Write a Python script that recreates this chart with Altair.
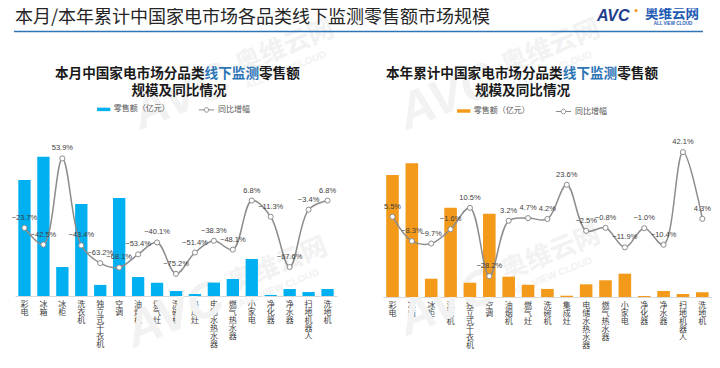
import altair as alt
import pandas as pd

# ---------------- data ----------------
categories = ["彩电", "冰箱", "冰柜", "洗衣机", "独立式干衣机", "空调", "油烟机", "燃气灶",
              "洗碗机", "集成灶", "电储水热水器", "燃气热水器", "小家电", "净化器", "净水器",
              "扫地机器人", "洗地机"]
month_sales = [64.9, 77.9, 16.2, 51.5, 6.2, 54.8, 10.6, 7.4, 2.8, 1.1, 7.5, 9.5, 20.7, 0.6, 3.9, 2.2, 3.9]
month_yoy = [-23.7, -42.5, 53.9, -43.4, -63.2, -68.1, -53.4, -40.1, -75.2, -51.4, -38.3, -48.1,
             6.8, -11.3, -67.6, -3.4, 6.8]
ytd_sales = [847, 928, 127, 620, 99, 578, 141, 85, 56, 9, 88, 116, 162, 7, 42, 21, 33]
ytd_yoy = [5.5, -8.3, -9.7, -1.6, 10.5, -28.2, 3.2, 4.7, 4.2, 23.6, -2.5, -0.8, -11.9, -1.0,
           -10.4, 42.1, 4.3]

BAR_SERIES = "零售额（亿元）"
LINE_SERIES = "同比增幅"
MAIN_TITLE = "本月/本年累计中国家电市场各品类线下监测零售额市场规模"

CJK = "Noto Sans CJK SC"
LAT = "Liberation Sans"
GRAY = "#8C8C8C"
BLUE_BAR = "#00B0F0"
ORANGE_BAR = "#F39A1A"
TITLE_BLUE = "#2E75B6"

RECT_PATH = "M-1,-0.26L1,-0.26L1,0.26L-1,0.26Z"
LINE_PATH = ("M-1,0L-0.3,0M0.3,0L1,0M-0.3,0A0.3,0.3 0 1,1 0.3,0"
             "A0.3,0.3 0 1,1 -0.3,0")

W, H = 704, 345


def fmt(v):
    return f"{v:.1f}%".replace("-", "\u2212")


def make_df(sales, yoy):
    return pd.DataFrame({
        "idx": list(range(len(categories))),
        "cat": categories,
        "sales": sales,
        "yoy": yoy,
        "label": [fmt(v) for v in yoy],
        "bar": BAR_SERIES,
        "line": LINE_SERIES,
    })


def panel(df, x_range, bar_color, bar_domain, yoy_domain, y_range, axis_offset,
          bar_leg_xy, line_leg_xy):
    xs = alt.Scale(domain=categories, range=x_range, paddingInner=0.35, paddingOuter=0.175)
    x_axis = alt.Axis(orient="bottom", offset=axis_offset, title=None, labelAngle=0,
                      labelExpr="split(datum.label, '')", labelFont=CJK, labelFontSize=8,
                      labelLineHeight=8, labelColor="#404040", labelPadding=4,
                      labelBaseline="top", ticks=False, domainColor="#D9D9D9",
                      domainWidth=1, grid=False)
    x_ax = alt.X("cat:N", sort=categories, scale=xs, axis=x_axis)
    x_no = alt.X("cat:N", sort=categories, scale=xs, axis=None)
    ys = alt.Scale(domain=yoy_domain, range=y_range, nice=False, zero=False)
    y_line = alt.Y("yoy:Q", scale=ys, axis=None)

    bars = alt.Chart(df).mark_bar().encode(
        x=x_ax,
        y=alt.Y("sales:Q", scale=alt.Scale(domain=bar_domain, range=y_range, nice=False),
                axis=None),
        color=alt.Color("bar:N", scale=alt.Scale(domain=[BAR_SERIES], range=[bar_color]),
                        legend=alt.Legend(title=None, orient="none", legendX=bar_leg_xy[0],
                                          legendY=bar_leg_xy[1], symbolType=RECT_PATH,
                                          symbolSize=177, symbolStrokeWidth=0,
                                          labelFont=CJK, labelFontSize=8,
                                          labelColor="#595959", labelOffset=3, padding=0)),
    )
    line = alt.Chart(df).mark_line(interpolate="catmull-rom", strokeWidth=1.5).encode(
        x=x_no, y=y_line, order=alt.Order("idx:Q"),
        stroke=alt.Stroke("line:N", scale=alt.Scale(domain=[LINE_SERIES], range=[GRAY]),
                          legend=alt.Legend(title=None, orient="none", legendX=line_leg_xy[0],
                                            legendY=line_leg_xy[1], symbolType=LINE_PATH,
                                            symbolSize=234, symbolStrokeWidth=1,
                                            symbolFillColor="white", labelFont=CJK,
                                            labelFontSize=8, labelColor="#595959",
                                            labelOffset=3, padding=0)),
    )
    pts = alt.Chart(df).mark_point(shape="circle", filled=True, fill="white", stroke=GRAY,
                                   strokeWidth=1, size=26, opacity=1).encode(x=x_no, y=y_line)
    labels = alt.Chart(df).mark_text(dy=-10, fontSize=7.5, font=LAT, color="#404040").encode(
        x=x_no, y=y_line, text="label:N")
    return [bars, line, pts, labels]


def txt(text, x, y, size, color, weight="normal", align="left", font=CJK, angle=0,
        italic=False):
    kw = dict(align=align, baseline="middle", fontSize=size, font=font, fontWeight=weight,
              color=color, angle=angle)
    if italic:
        kw["fontStyle"] = "italic"
    return alt.Chart(pd.DataFrame({"t": [text]})).mark_text(**kw).encode(
        x=alt.value(x), y=alt.value(y), text="t:N")


# ---------------- faint watermarks ----------------
WM = "#F2F2F2"
watermarks = []
for cx, cy in [(174, 89), (440, 89), (167, 307), (440, 295)]:
    watermarks.append(txt("AVC", cx, cy, 50, WM, weight="bold", align="center", font=LAT,
                          angle=338, italic=True))
    watermarks.append(txt("奥维云网", cx + 103, cy - 50, 26, WM, weight="bold", align="center",
                          angle=338))
    watermarks.append(txt("ALL VIEW CLOUD", cx + 104, cy - 27, 10, WM, weight="bold",
                          align="center", font=LAT, angle=338))

# ---------------- header / titles ----------------
one = pd.DataFrame({"v": [0]})
decor = [
    txt(MAIN_TITLE, 7, 9.5, 18, "#262626"),
    alt.Chart(one).mark_rule(color=TITLE_BLUE, strokeWidth=1.5).encode(
        x=alt.value(6), x2=alt.value(695), y=alt.value(23.5)),
    txt("AVC", 589, 7.5, 16, "#1F3E8C", weight="bold", font=LAT, italic=True),
    alt.Chart(one).mark_circle(color=ORANGE_BAR, size=10, opacity=1).encode(
        x=alt.value(628), y=alt.value(2.5)),
    txt("奥维云网", 637, 6, 13.5, "#1F5BB5", weight="bold"),
    txt("ALL VIEW CLOUD", 665, 15.5, 4.5, "#1F5BB5", weight="bold", align="center", font=LAT),
]

SUB = 13.6
# left subtitle
decor += [
    txt("本月中国家电市场分品类", 47, 66, SUB, "#1A1A1A", weight="bold"),
    txt("线下监测", 47 + 11 * SUB, 66, SUB, TITLE_BLUE, weight="bold"),
    txt("零售额", 47 + 15 * SUB, 66, SUB, "#1A1A1A", weight="bold"),
    txt("规模及同比情况", 171, 83, SUB, "#1A1A1A", weight="bold", align="center"),
]
# right subtitle
decor += [
    txt("本年累计中国家电市场分品类", 378, 66, SUB, "#1A1A1A", weight="bold"),
    txt("线下监测", 378 + 13 * SUB, 66, SUB, TITLE_BLUE, weight="bold"),
    txt("零售额", 378 + 17 * SUB, 66, SUB, "#1A1A1A", weight="bold"),
    txt("规模及同比情况", 514.5, 83, SUB, "#1A1A1A", weight="bold", align="center"),
]

left = panel(make_df(month_sales, month_yoy), [7, 329], BLUE_BAR, [0, 80], [-100, 60],
             [288, 145], -(H - 288), (88.7, 94.4), (190, 93.4))
right = panel(make_df(ytd_sales, ytd_yoy), [374.8, 704], ORANGE_BAR, [0, 1000], [-40, 41.6],
              [289, 145], -(H - 289), (448.7, 96), (547, 95))

chart = alt.layer(*watermarks, *decor, *left, *right).resolve_scale(
    x="independent", y="independent", color="independent", stroke="independent"
).resolve_legend(color="independent", stroke="independent").properties(
    width=W, height=H, autosize=alt.AutoSizeParams(type="none"), padding=0,
    background="white"
).configure_view(stroke=None)

chart.save("out.html", embed_options={"renderer": "svg", "actions": False})
